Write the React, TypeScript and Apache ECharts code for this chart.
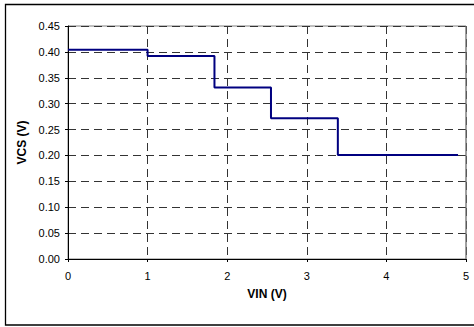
import React, { useEffect, useRef } from "react";
import * as echarts from "echarts";

// Step breakpoints of VCS versus VIN
const vinPoints = [0, 1.0, 1.84, 2.55, 3.39, 4.9];
const vcsPoints = [0.404, 0.392, 0.331, 0.272, 0.201, 0.201];

const xTicks = [0, 1, 2, 3, 4, 5];
const yTicks = [0, 0.05, 0.1, 0.15, 0.2, 0.25, 0.3, 0.35, 0.4, 0.45];

const FONT = "'Liberation Sans', Arial, sans-serif";

export default function App() {
  const ref = useRef<HTMLDivElement>(null);

  useEffect(() => {
    document.body.style.margin = "0";
    const chart = echarts.init(ref.current!, null, { renderer: "svg" });
    const gridLeft = 68;
    const gridRight = 8;
    const gridTop = 26;
    const gridBottom = 68;
    const width = 474;
    const height = 327;

    chart.setOption({
      animation: false,
      backgroundColor: "#ffffff",
      grid: {
        left: gridLeft,
        right: gridRight,
        top: gridTop,
        bottom: gridBottom,
        show: true,
        borderColor: "#808080",
        borderWidth: 1,
      },
      xAxis: {
        type: "value",
        min: xTicks[0],
        max: xTicks[xTicks.length - 1],
        interval: 1,
        name: "VIN (V)",
        nameLocation: "middle",
        nameGap: 29,
        nameTextStyle: { fontFamily: FONT, fontSize: 12, fontWeight: "bold", color: "#000" },
        axisLine: { show: true, onZero: false, lineStyle: { color: "#000", width: 1 } },
        axisTick: { show: true, length: 3, lineStyle: { color: "#000" } },
        axisLabel: { fontFamily: FONT, fontSize: 11, color: "#000", margin: 11 },
        splitLine: {
          show: true,
          lineStyle: { color: "#333", type: [8, 5], width: 1 },
        },
      },
      yAxis: {
        type: "value",
        min: yTicks[0],
        max: yTicks[yTicks.length - 1],
        interval: 0.05,
        name: "VCS (V)",
        nameLocation: "middle",
        nameGap: 36,
        nameTextStyle: { fontFamily: FONT, fontSize: 12, fontWeight: "bold", color: "#000" },
        axisLine: { show: true, lineStyle: { color: "#000", width: 1 } },
        axisTick: { show: true, length: 3, lineStyle: { color: "#000" } },
        axisLabel: {
          fontFamily: FONT,
          fontSize: 11,
          color: "#000",
          margin: 8,
          formatter: (v: number) => v.toFixed(2),
        },
        splitLine: {
          show: true,
          lineStyle: { color: "#333", type: [8, 5], width: 1 },
        },
      },
      series: [
        {
          type: "line",
          step: "end",
          data: vinPoints.map((x, i) => [x, vcsPoints[i]]),
          symbol: "none",
          lineStyle: { color: "#000080", width: 2 },
          z: 5,
        },
      ],
      graphic: [
        // solid right edge of the plot area
        {
          type: "line",
          shape: {
            x1: width - gridRight,
            y1: gridTop,
            x2: width - gridRight,
            y2: height - gridBottom,
          },
          style: { stroke: "#808080", lineWidth: 1 },
          z: 3,
        },
        // outer chart frame
        {
          type: "rect",
          shape: { x: 5.5, y: 4.5, width: 480, height: 320.5 },
          style: { fill: "none", stroke: "#000", lineWidth: 1.3 },
          z: 10,
        },
      ],
    });

    return () => chart.dispose();
  }, []);

  return <div ref={ref} style={{ width: 474, height: 327 }} />;
}
